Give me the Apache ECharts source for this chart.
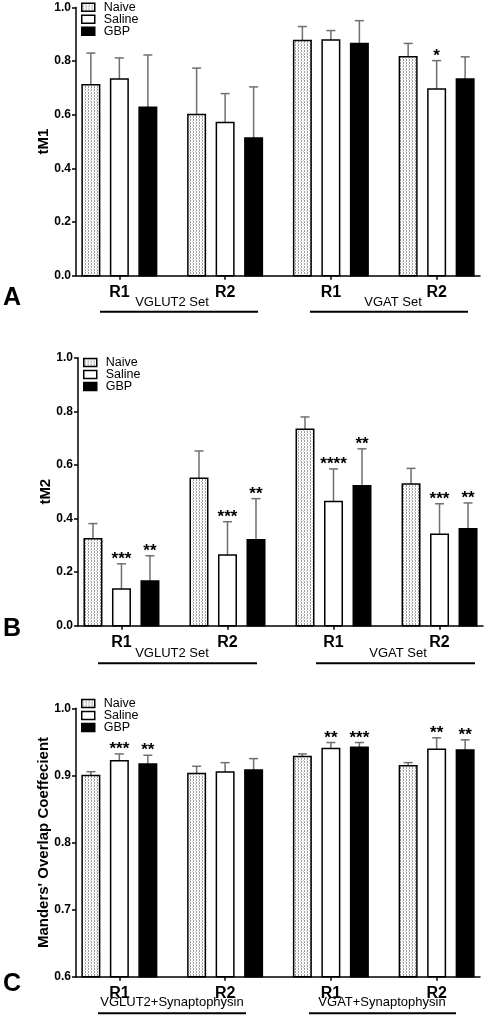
<!DOCTYPE html>
<html><head><meta charset="utf-8">
<script src="https://cdn.jsdelivr.net/npm/echarts@6/dist/echarts.min.js"></script>
<style>html,body{margin:0;padding:0;background:#fff}#c{width:486px;height:1017px}</style>
</head><body><div id="c"></div>
<script>
// ---- data ----
const groupLabels = ['R1', 'R2', 'R1', 'R2'];
const seriesNames = ['Naive', 'Saline', 'GBP'];

// Panel A (tM1)
const aNaive = [0.712, 0.601, 0.877, 0.816];
const aNaiveErr = [0.118, 0.173, 0.052, 0.050];
const aSaline = [0.733, 0.571, 0.879, 0.696];
const aSalineErr = [0.079, 0.108, 0.035, 0.106];
const aGbp = [0.628, 0.513, 0.866, 0.733];
const aGbpErr = [0.195, 0.191, 0.085, 0.083];
const aNaiveSig = ['', '', '', ''];
const aSalineSig = ['', '', '', '*'];
const aGbpSig = ['', '', '', ''];

// Panel B (tM2)
const bNaive = [0.324, 0.550, 0.733, 0.529];
const bNaiveErr = [0.057, 0.102, 0.046, 0.058];
const bSaline = [0.137, 0.264, 0.463, 0.341];
const bSalineErr = [0.094, 0.124, 0.122, 0.114];
const bGbp = [0.167, 0.321, 0.522, 0.362];
const bGbpErr = [0.094, 0.153, 0.138, 0.096];
const bNaiveSig = ['', '', '', ''];
const bSalineSig = ['***', '***', '****', '***'];
const bGbpSig = ['**', '**', '**', '**'];

// Panel C (Manders' Overlap Coefficient)
const cNaive = [0.900, 0.903, 0.928, 0.9145];
const cNaiveErr = [0.0055, 0.0106, 0.004, 0.0045];
const cSaline = [0.922, 0.905, 0.940, 0.939];
const cSalineErr = [0.010, 0.014, 0.009, 0.017];
const cGbp = [0.917, 0.908, 0.942, 0.938];
const cGbpErr = [0.013, 0.017, 0.007, 0.015];
const cNaiveSig = ['', '', '', ''];
const cSalineSig = ['***', '', '**', '**'];
const cGbpSig = ['**', '', '***', '**'];

const setLabelsAB = ['VGLUT2 Set', 'VGAT Set'];
const setLabelsC = ['VGLUT2+Synaptophysin', 'VGAT+Synaptophysin'];
const yNames = ['tM1', 'tM2', "Manders' Overlap Coeffecient"];

// ---- styling ----
const FONT = '"Liberation Sans", Arial, Helvetica, sans-serif';
const pat = document.createElement('canvas');
pat.width = 3; pat.height = 3;
(function () {
  const g = pat.getContext('2d');
  g.fillStyle = '#ffffff'; g.fillRect(0, 0, 3, 3);
  g.fillStyle = '#9a9a9a'; g.fillRect(1, 0, 1, 1); g.fillRect(1, 2, 1, 1);
  g.fillStyle = '#cfcfcf'; g.fillRect(0, 1, 1, 1);
})();
const fills = [{ image: pat, repeat: 'repeat' }, '#ffffff', '#000000'];
const offsets = [-28.5, 0, 28.5];
const BAR_W = 17.5;

function makeSeries(gridIdx, sIdx, means, errs, sigs, yBase) {
  return {
    type: 'custom',
    name: seriesNames[sIdx],
    xAxisIndex: gridIdx, yAxisIndex: gridIdx,
    itemStyle: { color: sIdx === 0 ? '#dddddd' : fills[sIdx], borderColor: '#000' },
    data: means.map((m, i) => [i, m, errs[i]]),
    renderItem: function (params, api) {
      const x = api.value(0), v = api.value(1), e = api.value(2);
      const base = api.coord([x, yBase]);
      const top = api.coord([x, v]);
      const et = api.coord([x, v + e]);
      const cx = base[0] + offsets[sIdx];
      const star = sigs[params.dataIndex];
      const ch = [
        { type: 'line', shape: { x1: cx, y1: top[1], x2: cx, y2: et[1] }, style: { stroke: '#6f6f6f', lineWidth: 1.5 } },
        { type: 'line', shape: { x1: cx - 4.5, y1: et[1], x2: cx + 4.5, y2: et[1] }, style: { stroke: '#6f6f6f', lineWidth: 1.5 } },
        { type: 'rect', shape: { x: cx - BAR_W / 2, y: top[1], width: BAR_W, height: base[1] - top[1] },
          style: { fill: fills[sIdx], stroke: '#000', lineWidth: 1.5 } }
      ];
      if (star) {
        ch.push({ type: 'text', style: { text: star, x: cx, y: et[1] + 4, textAlign: 'center', textVerticalAlign: 'bottom',
          font: 'bold 17px ' + FONT, fill: '#000' } });
      }
      return { type: 'group', children: ch };
    }
  };
}

const grids = [
  { left: 76, top: 7.5, width: 404, height: 268.2 },
  { left: 78, top: 357.7, width: 405, height: 268 },
  { left: 76, top: 708.3, width: 404, height: 268.4 }
];

function xAxis(gi) {
  return {
    type: 'value', gridIndex: gi, min: -0.41, max: 3.41,
    splitLine: { show: false },
    axisLine: { show: true, onZero: false, lineStyle: { color: '#000', width: 1.5 } },
    axisTick: { show: true, customValues: [0, 1, 2, 3], length: 4, lineStyle: { color: '#000', width: 1.5 } },
    axisLabel: { show: true, customValues: [0, 1, 2, 3], formatter: v => groupLabels[Math.round(v)],
      margin: 9, fontFamily: FONT, fontWeight: 'bold', fontSize: 16, color: '#000' }
  };
}
function yAxis(gi, min, max, interval, name) {
  return {
    type: 'value', gridIndex: gi, min: min, max: max, interval: interval,
    name: name, nameLocation: 'middle', nameRotate: 90, nameGap: 25, nameMoveOverlap: false,
    nameTextStyle: { fontFamily: FONT, fontWeight: 'bold', fontSize: 15, color: '#000' },
    splitLine: { show: false },
    axisLine: { show: true, onZero: false, lineStyle: { color: '#000', width: 1.5 } },
    axisTick: { show: true, length: 4, lineStyle: { color: '#000', width: 1.5 } },
    axisLabel: { formatter: v => v.toFixed(1), margin: 5, fontFamily: FONT, fontWeight: 'bold', fontSize: 12, color: '#000' }
  };
}
function legend(left, top) {
  return {
    orient: 'vertical', left: left, top: top, padding: 0, itemGap: -1,
    itemWidth: 13, itemHeight: 8, selectedMode: false,
    textStyle: { fontFamily: FONT, fontSize: 12.5, color: '#000', lineHeight: 10.5, padding: [0, 0, 0, 4] },
    data: seriesNames.map((n, i) => ({ name: n, icon: 'rect',
      itemStyle: { color: fills[i], borderColor: '#000', borderWidth: 1.5 } }))
  };
}
function txt(x, y, s, size, bold) {
  return { type: 'text', x: x, y: y, style: { text: s, textAlign: 'center', textVerticalAlign: 'middle',
    font: (bold ? 'bold ' : '') + size + 'px ' + FONT, fill: '#000' } };
}
function hline(x1, x2, y) {
  return { type: 'line', shape: { x1: x1, y1: y, x2: x2, y2: y }, style: { stroke: '#000', lineWidth: 2 } };
}

const chart = echarts.init(document.getElementById('c'), null, { renderer: 'canvas' });
chart.setOption({
  animation: false,
  backgroundColor: '#fff',
  grid: grids,
  xAxis: [xAxis(0), xAxis(1), xAxis(2)],
  yAxis: [yAxis(0, 0, 1, 0.2, yNames[0]), yAxis(1, 0, 1, 0.2, yNames[1]), yAxis(2, 0.6, 1, 0.1, yNames[2])],
  legend: [legend(81, 0.8), legend(83, 356), legend(81, 697)],
  series: [
    makeSeries(0, 0, aNaive, aNaiveErr, aNaiveSig, 0),
    makeSeries(0, 1, aSaline, aSalineErr, aSalineSig, 0),
    makeSeries(0, 2, aGbp, aGbpErr, aGbpSig, 0),
    makeSeries(1, 0, bNaive, bNaiveErr, bNaiveSig, 0),
    makeSeries(1, 1, bSaline, bSalineErr, bSalineSig, 0),
    makeSeries(1, 2, bGbp, bGbpErr, bGbpSig, 0),
    makeSeries(2, 0, cNaive, cNaiveErr, cNaiveSig, 0.6),
    makeSeries(2, 1, cSaline, cSalineErr, cSalineSig, 0.6),
    makeSeries(2, 2, cGbp, cGbpErr, cGbpSig, 0.6)
  ],
  graphic: [
    txt(12, 298, 'A', 25, true), txt(12, 629, 'B', 25, true), txt(12, 984, 'C', 25, true),
    txt(172, 302.3, setLabelsAB[0], 13, false), txt(393, 302.3, setLabelsAB[1], 13, false),
    hline(100, 258, 311.7), hline(310, 468, 311.7),
    txt(172, 653.3, setLabelsAB[0], 13, false), txt(398, 653.3, setLabelsAB[1], 13, false),
    hline(98, 257, 663.3), hline(316, 475, 663.3),
    txt(172, 1002.8, setLabelsC[0], 13, false), txt(382, 1002.8, setLabelsC[1], 13, false),
    hline(98, 246, 1013.3), hline(309, 456, 1013.3)
  ]
});
</script>
</body></html>
